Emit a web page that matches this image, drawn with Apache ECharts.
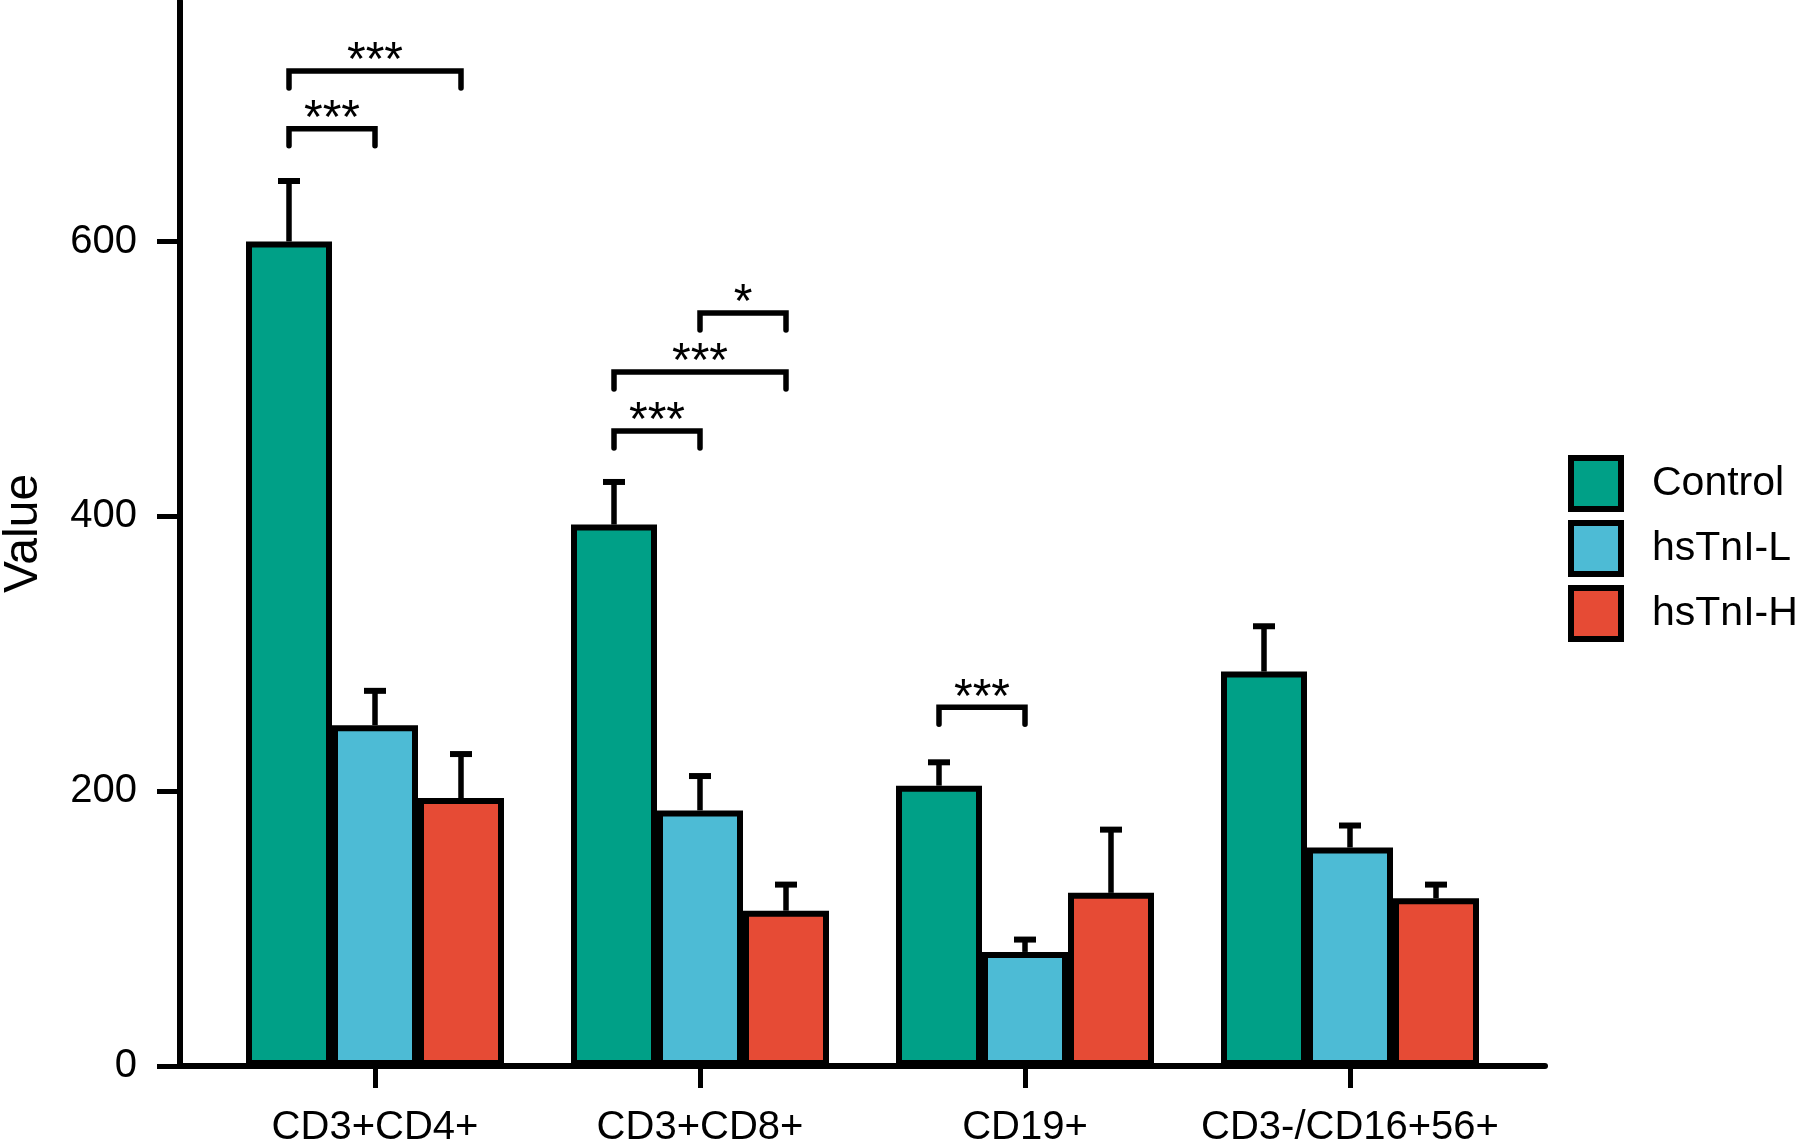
<!DOCTYPE html>
<html>
<head>
<meta charset="utf-8">
<title>Lymphocyte subsets</title>
<script src="https://cdn.jsdelivr.net/npm/echarts@6/dist/echarts.min.js"></script>
<style>
  html, body { margin: 0; padding: 0; background: #fff; }
  #chart { width: 1797px; height: 1143px; }
</style>
</head>
<body>
<div id="chart"></div>
<script>
// data
var categories = ['CD3+CD4+', 'CD3+CD8+', 'CD19+', 'CD3-/CD16+56+'];
var groupNames = ['Control', 'hsTnI-L', 'hsTnI-H'];
var controlMean = [600, 394, 204, 287];
var controlErr = [644, 425, 221, 320];
var lowMean = [248, 186, 83, 159];
var lowErr = [273, 211, 92, 175];
var highMean = [195, 113, 126, 122];
var highErr = [227, 132, 172, 132];
var yTicks = [0, 200, 400, 600];
var xTicks = [0, 1, 2, 3];
// [category, from bar, to bar, height, label]
var brackets = [
    [0, 0, 1, 682, '***'],
    [0, 0, 2, 724, '***'],
    [1, 0, 1, 462, '***'],
    [1, 0, 2, 505, '***'],
    [1, 1, 2, 548, '*'],
    [2, 0, 1, 261, '***']
];

var colors = ['#00A087', '#4DBBD5', '#E64B35'];
var BAR_W = 86;
var FONT = '"Liberation Sans", Arial, Helvetica, sans-serif';

var myChart = echarts.init(document.getElementById('chart'));

function barSeries(name, mean, idx) {
    return {
        name: name,
        type: 'bar',
        barWidth: BAR_W,
        barGap: '0%',
        data: mean.map(function (v, i) { return [i, v]; }),
        itemStyle: {
            color: colors[idx],
            borderColor: '#000',
            borderWidth: 6
        },
        z: 2
    };
}

function errorSeries(mean, err, idx) {
    return {
        type: 'custom',
        silent: true,
        z: 3,
        data: mean.map(function (v, i) { return [i, v, err[i]]; }),
        encode: { x: 0, y: [1, 2] },
        renderItem: function (params, api) {
            var base = api.coord([api.value(0), api.value(1)]);
            var top = api.coord([api.value(0), api.value(2)]);
            var x = base[0] + (idx - 1) * BAR_W;
            return {
                type: 'group',
                children: [
                    { type: 'line', shape: { x1: x, y1: base[1], x2: x, y2: top[1] }, style: { stroke: '#000', lineWidth: 5.5 } },
                    { type: 'line', shape: { x1: x - 11, y1: top[1], x2: x + 11, y2: top[1] }, style: { stroke: '#000', lineWidth: 6 } }
                ]
            };
        }
    };
}

var bracketSeries = {
    type: 'custom',
    silent: true,
    z: 4,
    data: brackets.map(function (b) { return [b[0], b[1], b[2], b[3]]; }),
    encode: { x: 0, y: 3 },
    renderItem: function (params, api) {
        var c = api.coord([api.value(0), api.value(3)]);
        var x1 = c[0] + (api.value(1) - 1) * BAR_W;
        var x2 = c[0] + (api.value(2) - 1) * BAR_W;
        var y = c[1];
        return {
            type: 'group',
            children: [
                {
                    type: 'polyline',
                    shape: { points: [[x1, y + 17], [x1, y], [x2, y], [x2, y + 17]] },
                    style: { stroke: '#000', lineWidth: 5.5, fill: null, lineJoin: 'miter', lineCap: 'round' }
                },
                {
                    type: 'text',
                    style: {
                        text: brackets[params.dataIndex][4],
                        x: (x1 + x2) / 2,
                        y: y - 9,
                        align: 'center',
                        verticalAlign: 'middle',
                        fontSize: 48,
                        fontFamily: FONT,
                        fill: '#000'
                    }
                }
            ]
        };
    }
};

myChart.setOption({
    animation: false,
    backgroundColor: '#fff',
    textStyle: { fontFamily: FONT },
    grid: {
        left: 180,
        right: 252,
        top: 1,
        bottom: 77,
        outerBoundsMode: 'none',
        containLabel: false
    },
    legend: {
        data: groupNames,
        orient: 'vertical',
        left: 1568,
        top: 455,
        padding: 0,
        icon: 'rect',
        itemWidth: 50,
        itemHeight: 51,
        itemGap: 8,
        itemStyle: { borderColor: '#000', borderWidth: 6 },
        textStyle: {
            fontSize: 41,
            color: '#000',
            fontFamily: FONT,
            padding: [0, 0, 0, 26]
        }
    },
    xAxis: {
        type: 'value',
        min: -0.6,
        max: 3.6,
        splitLine: { show: false },
        axisLine: { show: true, lineStyle: { color: '#000', width: 6 } },
        axisTick: {
            show: true,
            customValues: xTicks,
            length: 22,
            lineStyle: { color: '#000', width: 5 }
        },
        axisLabel: {
            customValues: xTicks,
            margin: 42,
            fontSize: 40,
            color: '#000',
            fontFamily: FONT,
            formatter: function (v) { return categories[Math.round(v)]; }
        }
    },
    yAxis: {
        type: 'value',
        min: 0,
        max: 775,
        interval: 200,
        name: 'Value',
        nameLocation: 'middle',
        nameRotate: 90,
        nameGap: 132,
        nameTextStyle: { fontSize: 48, color: '#000', fontFamily: FONT },
        splitLine: { show: false },
        axisLine: { show: true, onZero: false, lineStyle: { color: '#000', width: 6 } },
        axisTick: {
            show: true,
            customValues: yTicks,
            length: 23,
            lineStyle: { color: '#000', width: 5 }
        },
        axisLabel: {
            customValues: yTicks,
            margin: 43,
            fontSize: 40,
            color: '#000',
            fontFamily: FONT
        }
    },
    series: [
        barSeries(groupNames[0], controlMean, 0),
        barSeries(groupNames[1], lowMean, 1),
        barSeries(groupNames[2], highMean, 2),
        errorSeries(controlMean, controlErr, 0),
        errorSeries(lowMean, lowErr, 1),
        errorSeries(highMean, highErr, 2),
        bracketSeries
    ]
});

window.onresize = function () {
    myChart.resize();
};
</script>
</body>
</html>
